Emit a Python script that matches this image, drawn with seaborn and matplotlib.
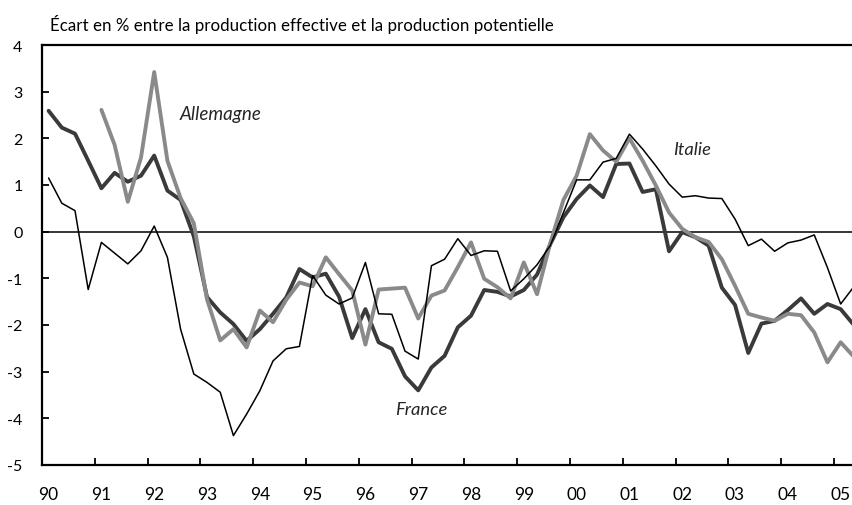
import numpy as np
import pandas as pd
import matplotlib
matplotlib.use("Agg")
import matplotlib.pyplot as plt
import seaborn as sns

# Quarterly data 1990T1 .. 2005T2
start_year = 1990
n_quarters = 62

france = [2.59, 2.23, 2.10, 1.52, 0.93, 1.26, 1.07, 1.20, 1.63, 0.88, 0.68, -0.10,
          -1.40, -1.73, -1.98, -2.34, -2.09, -1.76, -1.41, -0.80, -0.98, -0.90, -1.39, -2.28,
          -1.66, -2.37, -2.51, -3.10, -3.40, -2.91, -2.66, -2.05, -1.80, -1.25, -1.29, -1.39,
          -1.25, -0.92, -0.27, 0.31, 0.70, 0.99, 0.74, 1.45, 1.46, 0.85, 0.91, -0.42,
          -0.01, -0.12, -0.30, -1.20, -1.57, -2.60, -1.97, -1.91, -1.68, -1.43, -1.76, -1.55,
          -1.66, -2.00]

italie = [1.15, 0.61, 0.45, -1.24, -0.23, -0.46, -0.69, -0.41, 0.12, -0.55, -2.09, -3.05,
          -3.23, -3.44, -4.37, -3.91, -3.41, -2.77, -2.51, -2.46, -0.94, -1.36, -1.55, -1.42,
          -0.66, -1.76, -1.77, -2.56, -2.73, -0.73, -0.59, -0.15, -0.51, -0.41, -0.42, -1.27,
          -1.01, -0.71, -0.30, 0.41, 1.11, 1.11, 1.49, 1.57, 2.09, 1.77, 1.41, 1.02,
          0.74, 0.77, 0.72, 0.71, 0.27, -0.30, -0.16, -0.42, -0.24, -0.18, -0.07, -0.77,
          -1.55, -1.18]

allemagne = [np.nan, np.nan, np.nan, np.nan, 2.61, 1.86, 0.64, 1.59, 3.42, 1.52, 0.72, 0.18,
             -1.45, -2.33, -2.09, -2.48, -1.69, -1.94, -1.46, -1.09, -1.17, -0.55, -0.91, -1.26,
             -2.42, -1.24, -1.22, -1.20, -1.86, -1.37, -1.26, -0.76, -0.23, -1.01, -1.19, -1.43,
             -0.66, -1.34, -0.25, 0.68, 1.20, 2.09, 1.74, 1.50, 2.00, 1.52, 0.99, 0.41,
             0.06, -0.12, -0.22, -0.59, -1.16, -1.76, -1.84, -1.91, -1.76, -1.79, -2.16, -2.80,
             -2.37, -2.68]

year_ticks = list(range(1990, 2006))
year_labels = ["90", "91", "92", "93", "94", "95", "96", "97", "98", "99",
               "00", "01", "02", "03", "04", "05"]
y_ticks = [4, 3, 2, 1, 0, -1, -2, -3, -4, -5]

title = "Écart en % entre la production effective et la production potentielle"

# time position at middle of each quarter
t = start_year + (np.arange(n_quarters) + 0.5) / 4.0
df = pd.DataFrame({"t": t, "France": france, "Italie": italie, "Allemagne": allemagne})

sns.set_theme(style="white")
plt.rcParams["font.family"] = ["Lato", "DejaVu Sans"]

fig = plt.figure(figsize=(8.52, 5.06), dpi=100)
ax = fig.add_axes([42 / 852, 40 / 506, 1 - 42 / 852, 420 / 506])

ax.axhline(0, color="black", lw=1.1, zorder=1)
sns.lineplot(data=df, x="t", y="France", ax=ax, color="#3a3a3a", lw=2.8, zorder=3)
sns.lineplot(data=df.dropna(), x="t", y="Allemagne", ax=ax, color="#8a8a8a", lw=2.8, zorder=4)
sns.lineplot(data=df, x="t", y="Italie", ax=ax, color="black", lw=1.1, zorder=5)

ax.set_xlim(1990, 2005.34)
ax.set_ylim(-5, 4)
ax.set_xlabel("")
ax.set_ylabel("")

ax.set_xticks(year_ticks)
ax.set_xticklabels([""] * len(year_ticks))
ax.set_xticks([y + 0.125 for y in year_ticks], minor=True)
ax.set_xticklabels(year_labels, minor=True)
ax.tick_params(axis="x", which="major", direction="in", length=5, width=1.3, color="black")
ax.tick_params(axis="x", which="minor", length=0, pad=15, labelsize=12.5, labelcolor="black")

ax.set_yticks(y_ticks)
ax.set_yticklabels([str(v) for v in y_ticks])
ax.tick_params(axis="y", direction="in", length=5, width=1.3, color="black",
               pad=14, labelsize=11.5, labelcolor="black")
ax.tick_params(left=True, bottom=True)

for s in ["left", "bottom", "top"]:
    ax.spines[s].set_visible(True)
    ax.spines[s].set_color("black")
    ax.spines[s].set_linewidth(1.6)
ax.spines["right"].set_visible(False)

fig.text(50 / 852, 1 - 25 / 506, title, fontsize=12.2, ha="left", va="center", color="black")

ax.text(1992.61, 2.54, "Allemagne", fontsize=13.5, style="italic", ha="left", va="center")
ax.text(2001.95, 1.77, "Italie", fontsize=13.2, style="italic", ha="left", va="center")
ax.text(1996.69, -3.8, "France", fontsize=13.2, style="italic", ha="left", va="center")

fig.savefig("out.png", dpi=100)
